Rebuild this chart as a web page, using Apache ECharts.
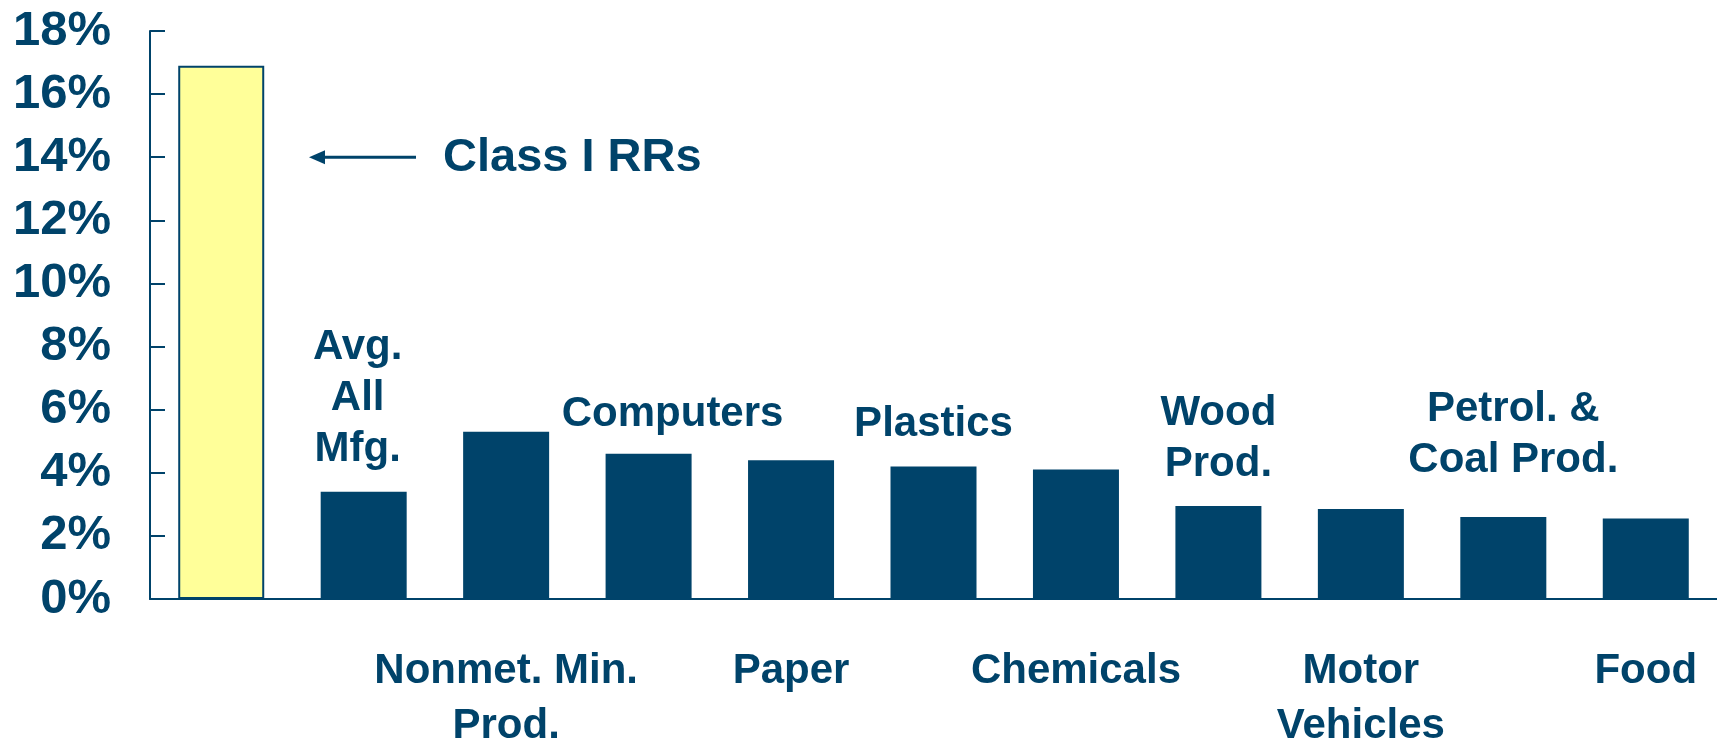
<!DOCTYPE html>
<html>
<head>
<meta charset="utf-8">
<script src="https://cdn.jsdelivr.net/npm/echarts@6/dist/echarts.min.js"></script>
<style>
html, body { margin: 0; padding: 0; background: #fff; }
#chart { width: 1717px; height: 746px; }
</style>
</head>
<body>
<div id="chart"></div>
<script>
// data
var categories = ['Class I RRs', 'Avg.\nAll\nMfg.', 'Nonmet. Min.\nProd.', 'Computers', 'Paper', 'Plastics',
    'Chemicals', 'Wood\nProd.', 'Motor\nVehicles', 'Petrol. &\nCoal Prod.', 'Food'];
var values = [16.9, 3.4, 5.3, 4.6, 4.4, 4.2, 4.1, 2.95, 2.85, 2.6, 2.55];
var yTicks = [0, 2, 4, 6, 8, 10, 12, 14, 16, 18];
var arrowLevel = 14;

var navy = '#00436a';
var font = '"Liberation Sans", Arial, sans-serif';

// small nudges so the upper labels sit like in the original
var labelNudge = { 1: [-6, 0], 3: [24, 3], 7: [0, 1], 9: [10, -14] };

var seriesData = values.map(function (v, i) {
    var item = { value: v };
    if (i === 0) {
        item.itemStyle = { color: '#ffff99', borderColor: navy, borderWidth: 2 };
        item.label = { show: false };
    } else if (i % 2 === 1) {
        item.label = { show: true, offset: labelNudge[i] || [0, 0] };
    } else {
        item.label = { show: false };
    }
    return item;
});

var chart = echarts.init(document.getElementById('chart'));

var option = {
    animation: false,
    backgroundColor: '#fff',
    grid: { left: 150, right: 0, top: 31, bottom: 147, containLabel: false, outerBoundsMode: 'none' },
    xAxis: {
        type: 'category',
        data: categories,
        axisLine: { lineStyle: { color: navy, width: 2 } },
        axisTick: { show: false },
        axisLabel: {
            interval: 0,
            margin: 45,
            lineHeight: 55,
            color: navy,
            fontFamily: font,
            fontWeight: 'bold',
            fontSize: 42,
            formatter: function (val, idx) {
                return (idx > 0 && idx % 2 === 0) ? val : '';
            }
        }
    },
    yAxis: {
        type: 'value',
        min: yTicks[0],
        max: yTicks[yTicks.length - 1],
        interval: yTicks[1] - yTicks[0],
        splitLine: { show: false },
        axisLine: { show: true, lineStyle: { color: navy, width: 2 } },
        axisTick: { show: true, inside: true, length: 15, lineStyle: { color: navy, width: 2 } },
        axisLabel: {
            margin: 39,
            color: navy,
            fontFamily: font,
            fontWeight: 'bold',
            fontSize: 49,
            formatter: '{value}%'
        }
    },
    series: [{
        type: 'bar',
        data: seriesData,
        barWidth: 86,
        itemStyle: { color: navy },
        label: {
            position: 'top',
            distance: 17,
            color: navy,
            fontFamily: font,
            fontWeight: 'bold',
            fontSize: 42,
            lineHeight: 51,
            align: 'center',
            formatter: function (p) { return categories[p.dataIndex]; }
        }
    }]
};
chart.setOption(option);

// arrow + "Class I RRs" note, at the 14% level
var yArrow = chart.convertToPixel({ yAxisIndex: 0 }, arrowLevel);
chart.setOption({
    graphic: [
        { type: 'line', shape: { x1: 322, y1: yArrow, x2: 416, y2: yArrow }, style: { stroke: navy, lineWidth: 3 } },
        { type: 'polygon', shape: { points: [[309, yArrow], [325, yArrow - 7], [325, yArrow + 7]] }, style: { fill: navy } },
        { type: 'text', x: 443, y: yArrow + 1, style: {
            text: categories[0], fill: navy, font: 'bold 47px ' + font,
            verticalAlign: 'middle', align: 'left'
        } }
    ]
});
window.onresize = chart.resize;
</script>
</body>
</html>
